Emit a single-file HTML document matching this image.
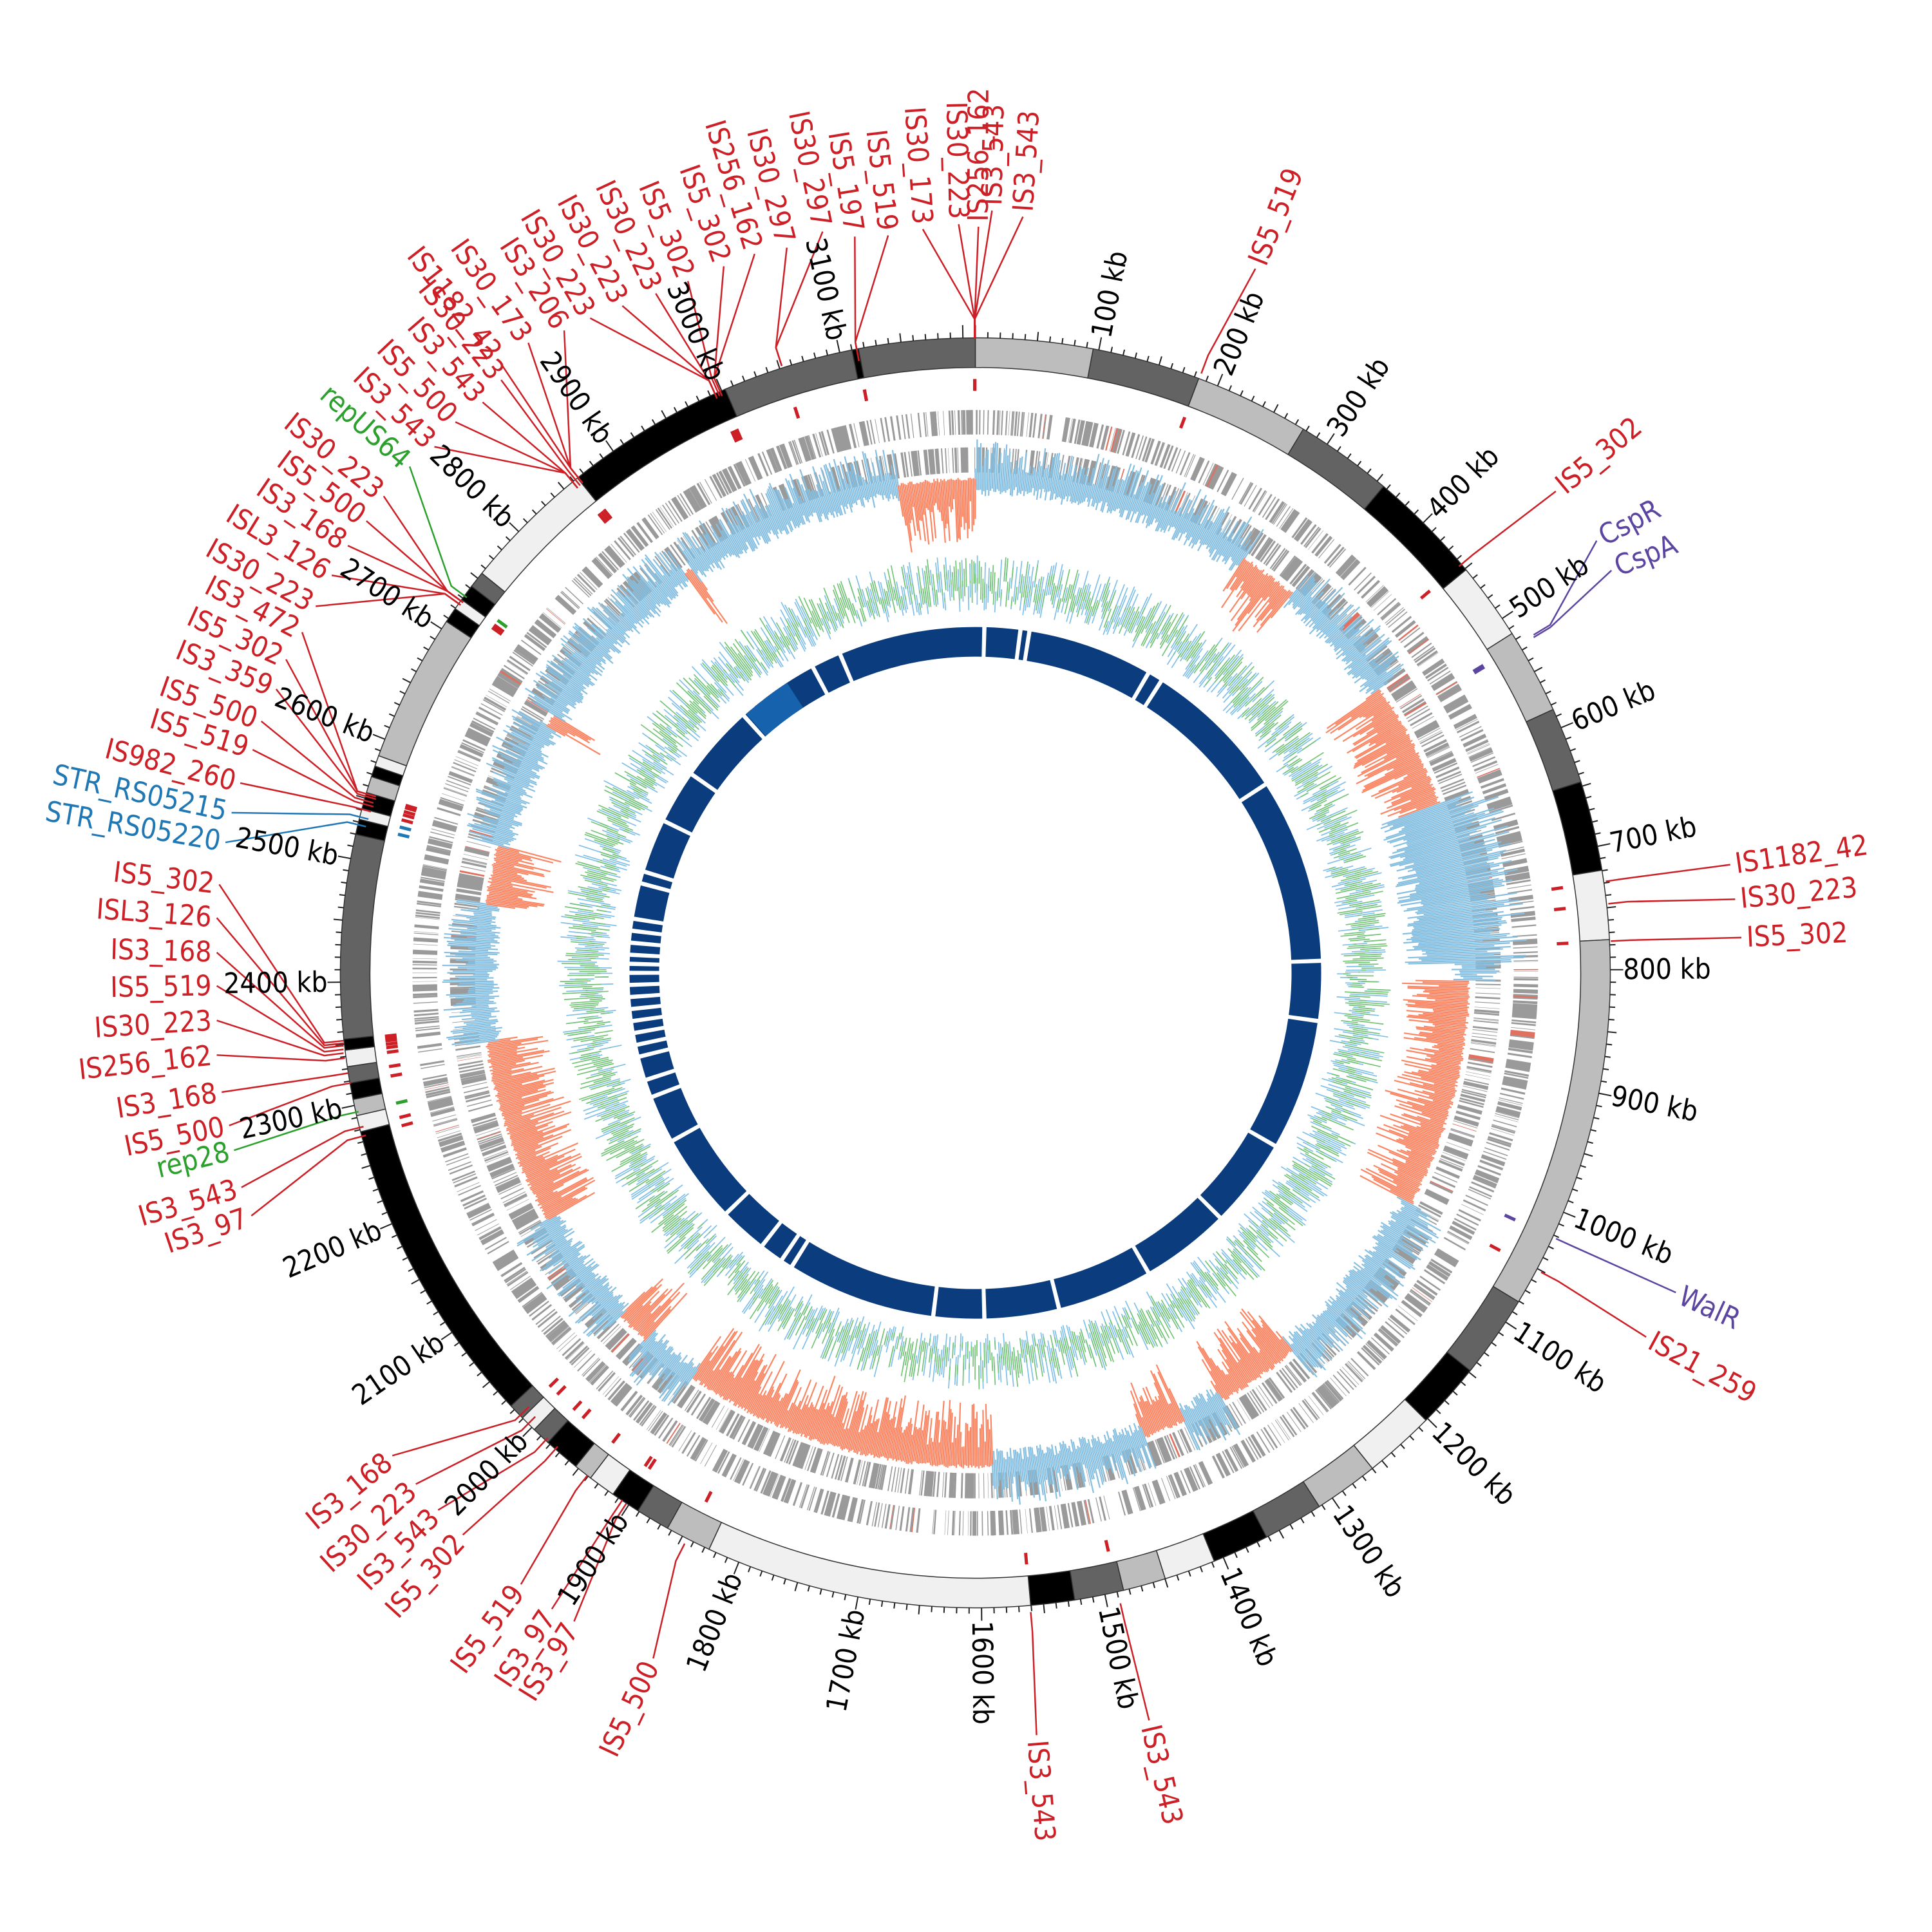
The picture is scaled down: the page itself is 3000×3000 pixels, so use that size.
<!DOCTYPE html>
<html><head><meta charset="utf-8"><style>
html,body{margin:0;padding:0;background:#fff;}
svg{display:block;}
text{font-family:"Liberation Sans Narrow","DejaVu Sans Condensed","Liberation Sans",sans-serif;font-size:44px;}
.r{fill:#cc1f26;} .g{fill:#2ca02c;} .b{fill:#1f77b4;} .p{fill:#5b45a0;} .k{fill:#000;}
</style></head><body>
<svg id="s" width="3000" height="3000" viewBox="0 0 3000 3000" xmlns="http://www.w3.org/2000/svg">
<g id="tracks"></g>
<g id="leaders" stroke-width="2.5" fill="none"></g>
<g id="labels">
<text class="r lab" p="822,170" t="783,272">IS3_543</text>
<text class="r lab" p="797,165" t="783,272">IS3_543</text>
<text class="r lab" p="786,178" t="783,272">IS256_162</text>
<text class="r lab" p="770,176" t="783,272">IS30_223</text>
<text class="r lab" p="741,180" t="783,272">IS30_173</text>
<text class="r lab" p="713,185" t="690,290">IS5_519</text>
<text class="r lab" p="686,186" t="690,290">IS5_197</text>
<text class="r lab" p="660,182" t="628,294">IS30_297</text>
<text class="r lab" p="631,195" t="628,294">IS30_297</text>
<text class="r lab" p="605,200" t="580,318">IS256_162</text>
<text class="r lab" p="580,210" t="580,318">IS5_302</text>
<text class="r lab" p="551,222" t="578,318">IS5_302</text>
<text class="r lab" p="525,232" t="576,320">IS30_223</text>
<text class="r lab" p="498,242" t="576,320">IS30_223</text>
<text class="r lab" p="472,252" t="576,320">IS30_223</text>
<text class="r lab" p="451,262" t="468,388">IS3_206</text>
<text class="r lab" p="422,272" t="468,388">IS30_173</text>
<text class="r lab" p="398,286" t="468,388">IS1182_42</text>
<text class="r lab" p="400,302" t="466,390">IS30_223</text>
<text class="r lab" p="385,320" t="464,392">IS3_543</text>
<text class="r lab" p="363,336" t="464,392">IS5_500</text>
<text class="r lab" p="346,356" t="464,392">IS3_543</text>
<text class="g lab" p="326,372" t="375,480">repUS64</text>
<text class="r lab" p="305,396" t="372,484">IS30_223</text>
<text class="r lab" p="291,416" t="372,484">IS5_500</text>
<text class="r lab" p="276,436" t="372,484">IS3_168</text>
<text class="r lab" p="263,460" t="370,486">ISL3_126</text>
<text class="r lab" p="250,485" t="370,486">IS30_223</text>
<text class="r lab" p="239,506" t="302,640">IS3_472</text>
<text class="r lab" p="226,528" t="302,640">IS5_302</text>
<text class="r lab" p="218,552" t="302,642">IS3_359</text>
<text class="r lab" p="206,578" t="300,645">IS5_500</text>
<text class="r lab" p="199,601" t="300,648">IS5_519</text>
<text class="r lab" p="189,628" t="298,652">IS982_260</text>
<text class="b lab" p="182,652" t="296,658">STR_RS05215</text>
<text class="b lab" p="177,676" t="294,664">STR_RS05220</text>
<text class="r lab" p="172,710" t="276,836">IS5_302</text>
<text class="r lab" p="170,737" t="276,838">ISL3_126</text>
<text class="r lab" p="170,765" t="276,840">IS3_168</text>
<text class="r lab" p="170,792" t="276,843">IS5_519</text>
<text class="r lab" p="170,820" t="276,846">IS30_223</text>
<text class="r lab" p="170,848" t="277,850">IS256_162</text>
<text class="r lab" p="174,878" t="280,862">IS3_168</text>
<text class="r lab" p="180,905" t="282,870">IS5_500</text>
<text class="g lab" p="184,925" t="288,893">rep28</text>
<text class="r lab" p="190,955" t="292,905">IS3_543</text>
<text class="r lab" p="198,978" t="294,912">IS3_97</text>
<text class="r lab" p="312,1172" t="425,1130">IS3_168</text>
<text class="r lab" p="331,1195" t="430,1138">IS30_223</text>
<text class="r lab" p="349,1216" t="440,1155">IS3_543</text>
<text class="r lab" p="369,1236" t="448,1162">IS5_302</text>
<text class="r lab" p="416,1276" t="472,1185">IS5_519</text>
<text class="r lab" p="441,1296" t="500,1205">IS3_97</text>
<text class="r lab" p="459,1306" t="503,1208">IS3_97</text>
<text class="r lab" p="523,1336" t="550,1240">IS5_500</text>
<text class="r lab" p="833,1398" t="828,1295">IS3_543</text>
<text class="r lab" p="924,1386" t="900,1288">IS3_543</text>
<text class="r lab" p="1010,212" t="965,300">IS5_519</text>
<text class="r lab" p="1253,392" t="1172,455">IS5_302</text>
<text class="p lab" p="1286,432" t="1232,510" rot="-28">CspR</text>
<text class="p lab" p="1298,456" t="1232,512" rot="-22">CspA</text>
<text class="r lab" p="1394,694" t="1290,708">IS1182_42</text>
<text class="r lab" p="1398,722" t="1292,726">IS30_223</text>
<text class="r lab" p="1403,753" t="1294,756">IS5_302</text>
<text class="p lab" p="1350,1040" t="1250,995">WalR</text>
<text class="r lab" p="1326,1076" t="1238,1022">IS21_259</text>
</g>
<g id="kb"></g>
</svg>
<script>
var S=3000/1552, CX=783.5*S, CY=781.5*S, NS="http://www.w3.org/2000/svg";
var tracks=document.getElementById('tracks');
function el(n,a,p){var e=document.createElementNS(NS,n);for(var k in a)e.setAttribute(k,a[k]);(p||tracks).appendChild(e);return e;}
function pt(th,r){var a=th*Math.PI/180;return [CX+r*Math.sin(a),CY-r*Math.cos(a)];}
function sector(a0,a1,r0,r1,fill,stroke){
 var p1=pt(a0,r1),p2=pt(a1,r1),p3=pt(a1,r0),p4=pt(a0,r0),lg=(a1-a0)>180?1:0;
 var d='M'+p1+' A'+r1+','+r1+' 0 '+lg+' 1 '+p2+' L'+p3+' A'+r0+','+r0+' 0 '+lg+' 0 '+p4+'Z';
 el('path',{d:d,fill:fill,stroke:stroke||'none','stroke-width':1.5});}
var seed=7;function rnd(){seed=(seed*16807)%2147483647;return seed/2147483647;}
function rl(th,r0,r1,c,w){var a=pt(th,r0),b=pt(th,r1);el('line',{x1:a[0],y1:a[1],x2:b[0],y2:b[1],stroke:c,'stroke-width':w||2});}
var segs=[[0,10.7,'#bdbdbd'],[10.7,20.6,'#636363'],[20.6,31.1,'#bdbdbd'],[31.1,40,'#636363'],[40,50.6,'#000'],[50.6,57.7,'#f0f0f0'],[57.7,65.5,'#bdbdbd'],[65.5,72.5,'#636363'],[72.5,80.7,'#000'],[80.7,87,'#f0f0f0'],[87,121.2,'#bdbdbd'],[121.2,128.8,'#636363'],[128.8,134.8,'#000'],[134.8,141.3,'#f0f0f0'],[141.3,147.2,'#bdbdbd'],[147.2,152.7,'#636363'],[152.7,157.9,'#000'],[157.9,162.6,'#f0f0f0'],[162.6,166.5,'#bdbdbd'],[166.5,171,'#636363'],[171,175,'#000'],[175,204.8,'#f0f0f0'],[204.8,209,'#bdbdbd'],[209,212.1,'#636363'],[212.1,214.8,'#000'],[214.8,217.3,'#f0f0f0'],[217.3,219,'#bdbdbd'],[219,222.3,'#000'],[222.3,224,'#636363'],[224,225.5,'#f0f0f0'],[225.5,227,'#636363'],[227,255.5,'#000'],[255.5,257,'#f0f0f0'],[257,258.5,'#bdbdbd'],[258.5,260,'#000'],[260,261.5,'#636363'],[261.5,263,'#f0f0f0'],[263,264,'#000'],[264,282.6,'#636363'],[282.6,284,'#000'],[284,285,'#f0f0f0'],[285,286.5,'#000'],[286.5,288,'#bdbdbd'],[288,289,'#000'],[289,290,'#f0f0f0'],[290,303.6,'#bdbdbd'],[303.6,305,'#000'],[305,306,'#f0f0f0'],[306,307.5,'#000'],[307.5,309,'#636363'],[309,321.2,'#f0f0f0'],[321.2,336.8,'#000'],[336.8,348.8,'#636363'],[348.8,349.4,'#000'],[349.4,360,'#636363']];
var R0=940,R1=986;
segs.forEach(function(s){sector(s[0],s[1],R0,R1,s[2],'#333');});
var TOT=3210;
for(var kb=0;kb<TOT;kb+=10){var th=kb/TOT*360;rl(th,R1,R1+(kb%100==0?20:(kb%50==0?14:9)),'#222',2);}
var kbg=document.getElementById('kb');
for(var kb=100;kb<=3100;kb+=100){var th=kb/TOT*360,p=pt(th,1006);var rot,anc;
 if(th<180){rot=th-90;anc='start';}else{rot=th+90;anc='end';}
 var t=el('text',{x:p[0],y:p[1],'text-anchor':anc,'dominant-baseline':'central',transform:'rotate('+rot+' '+p[0]+' '+p[1]+')','class':'k'},kbg);t.textContent=kb+' kb';}
function genes(r0,r1){var th=0;while(th<360){th+=rnd()*0.55+0.05;var w=rnd()<0.3?0.35:0.12;var c=rnd()<0.03?'#e07060':'#9a9a9a';
 if(rnd()<0.12)continue; sector(th,th+w*(rnd()*1.5+0.3),r0,r1,c);}}
genes(836,874);genes(777,816);
var base=764;
var sk=[[0,33,'b'],[33,40,'o'],[40,55,'b'],[55,70,'o'],[70,89,'B'],[89,91,'b'],[91,118,'o'],[118,140,'b'],[140,150,'o'],[150,155,'b'],[155,160,'o'],[160,178,'b'],[178,215,'o'],[215,222,'b'],[222,226,'o'],[226,240,'b'],[240,262,'o'],[262,278,'b'],[278,285,'o'],[285,300,'b'],[300,301.5,'o'],[301.5,324,'b'],[324,325,'o'],[325,351,'b'],[351,360,'o']];
sk.forEach(function(s){for(var th=s[0];th<s[1];th+=0.2){var v=rnd();
 if(s[2]=='b'){rl(th,base-5-rnd()*20,base+15+v*50,'#86bfe0',2.2);}
 else if(s[2]=='B'){rl(th,base-60-rnd()*40,base+25+v*70,'#86bfe0',2.2);}
 else{rl(th,base-20-v*70-rnd()*15,base+rnd()*6,'#fa8664',2.2);}}});
var gb=600;
for(var th=0;th<360;th+=0.28){var a=(rnd()-0.5),b=(rnd()-0.5);
 rl(th,gb-15+a*50,gb+15+b*70,'#7fbfe8',1.7);
 rl(th,gb-8+b*45,gb+12+a*70,'#74c476',1.7);}
var gaps=[1.5,7.5,9,30,32.5,57,88,98,120,135,150,166,178.5,187,212,214,218,226,241,249,252,256,258,260,262,264,266,268,270,271.5,273,275,277,279,285,287,296,305,318,320,322,332,337];
var prev=0;
gaps.forEach(function(g){sector(prev,g-0.35,491,537,'#0b3d7e');prev=g+0.35;});
sector(prev,360,491,537,'#0b3d7e');
sector(318.5,327,491,537,'#1662ac');
var lg=document.getElementById('leaders');
var labs=document.querySelectorAll('.lab');
for(var i=0;i<labs.length;i++){var L=labs[i];var pp=L.getAttribute('p').split(',').map(Number);var tt=L.getAttribute('t').split(',').map(Number);
 var px=pp[0]*S,py=pp[1]*S,tx=tt[0]*S,ty=tt[1]*S;var dx=px-CX,dy=py-CY;var th=Math.atan2(dx,-dy)*180/Math.PI;if(th<0)th+=360;
 var rot,anc;if(th<180){rot=th-90;anc='start';}else{rot=th+90;anc='end';}
 if(L.getAttribute('rot'))rot=+L.getAttribute('rot');
 var col=getComputedStyle(L).fill;
 var len=Math.hypot(dx,dy);var ix=px-dx/len*8,iy=py-dy/len*8;
 var tr=Math.hypot(tx-CX,ty-CY);var mx=CX+(tx-CX)/tr*(tr+30),my=CY+(ty-CY)/tr*(tr+30);
 el('polyline',{points:ix+','+iy+' '+mx+','+my+' '+tx+','+ty,stroke:col},lg);
 var ax=CX+(tx-CX)/tr*(R0-18),ay=CY+(ty-CY)/tr*(R0-18);
 el('line',{x1:ax,y1:ay,x2:CX+(tx-CX)/tr*(R0-36),y2:CY+(ty-CY)/tr*(R0-36),stroke:col,'stroke-width':5},lg);
 L.setAttribute('x',px);L.setAttribute('y',py);L.setAttribute('text-anchor',anc);L.setAttribute('dominant-baseline','central');
 L.setAttribute('transform','rotate('+rot+' '+px+' '+py+')');}
</script>
</body></html>
